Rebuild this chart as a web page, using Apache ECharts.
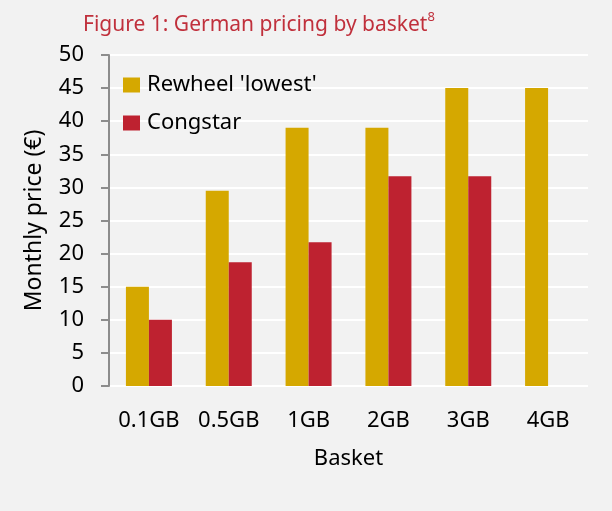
<!DOCTYPE html>
<html><head><meta charset="utf-8">
<script src="https://cdn.jsdelivr.net/npm/echarts@6/dist/echarts.min.js"></script>
<style>html,body{margin:0;padding:0;background:#f2f2f2}#c{width:612px;height:511px}</style>
</head><body><div id="c"></div>
<script>
const categories = ['0.1GB','0.5GB','1GB','2GB','3GB','4GB'];
const rewheel = [15, 29.5, 39, 39, 45, 45];
const congstar = [10, 18.7, 21.7, 31.7, 31.7, null];
const seriesNames = ["Rewheel 'lowest'", 'Congstar'];
const FONT = 'Noto Sans';
const chart = echarts.init(document.getElementById('c'));
chart.setOption({
  backgroundColor: '#f2f2f2',
  animation: false,
  title: {
    text: 'Figure 1: German pricing by basket{s|8}',
    left: 78, top: 6,
    textStyle: { color: '#c0303c', fontSize: 21, fontFamily: FONT, fontWeight: 'normal',
      rich: { s: { fontSize: 13, color: '#c0303c', fontFamily: FONT, verticalAlign: 'top', padding: [0,0,16,0] } } }
  },
  legend: {
    orient: 'vertical', left: 123, top: 74, itemGap: 16, padding: 0,
    itemWidth: 17, itemHeight: 15, icon: 'rect',
    textStyle: { fontSize: 22, color: '#000', fontFamily: FONT, padding: [0,0,0,2] },
    data: seriesNames
  },
  grid: { left: 109, right: 24, top: 55, bottom: 125, containLabel: false },
  xAxis: {
    type: 'category', data: categories,
    name: 'Basket', nameLocation: 'middle', nameGap: 62,
    nameTextStyle: { fontSize: 22, color: '#000', fontFamily: FONT },
    axisLine: { show: false }, axisTick: { show: false },
    axisLabel: { fontSize: 22, color: '#000', fontFamily: FONT, margin: 24 }
  },
  yAxis: {
    type: 'value', min: 0, max: 50, interval: 5,
    name: 'Monthly price (€)', nameLocation: 'middle', nameGap: 63, nameRotate: 90,
    nameTextStyle: { fontSize: 23, color: '#000', fontFamily: FONT },
    axisLine: { show: true, lineStyle: { color: '#8c8c8c', width: 2 } },
    axisTick: { show: true, inside: false, length: 8, lineStyle: { color: '#8c8c8c', width: 2 } },
    axisLabel: { fontSize: 22, color: '#000', fontFamily: FONT, margin: 25 },
    splitLine: { show: true, lineStyle: { color: '#ffffff', width: 2 } }
  },
  series: [
    { name: seriesNames[0], type: 'bar', data: rewheel, barWidth: 23, barGap: '0%',
      itemStyle: { color: '#d5a800' } },
    { name: seriesNames[1], type: 'bar', data: congstar, barWidth: 23, barGap: '0%',
      itemStyle: { color: '#be2230' } }
  ]
});
</script></body></html>
